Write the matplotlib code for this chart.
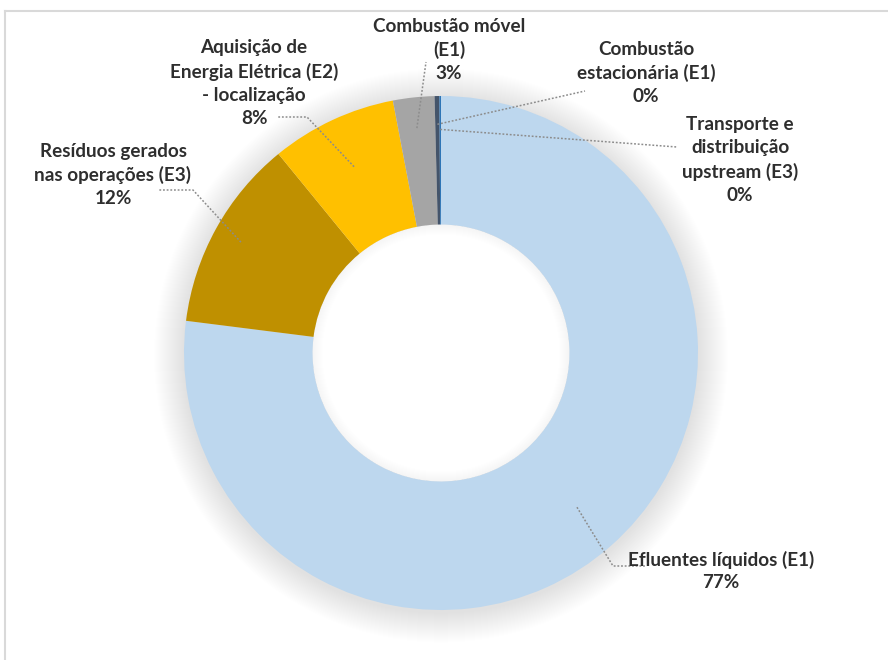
import matplotlib
matplotlib.use('Agg')
import matplotlib.pyplot as plt
from matplotlib.patches import Circle, Wedge
from matplotlib.lines import Line2D
import numpy as np

# data
categories = ['Efluentes líquidos (E1)', 'Resíduos gerados\nnas operações (E3)',
              'Aquisição de\nEnergia Elétrica (E2)\n- localização', 'Combustão móvel\n(E1)',
              'Combustão\nestacionária (E1)', 'Transporte e\ndistribuição\nupstream (E3)']
values = [77.0, 12.1, 7.9, 2.6, 0.3, 0.1]
colors = ['#BDD7EE', '#BF9000', '#FFC000', '#A5A5A5', '#44546A', '#2E75B6']

# layout in pixels of the original picture
W, H = 888, 660
CX, CY, R = 441, 353, 257
label_pos = [(721, 571), (113, 175), (254, 83), (449, 50), (646, 73), (740, 160)]
# leader line: radius on the wedge where it starts, optional elbow, end point (pixels)
leader = [
	(0.80, (613, 566), (645, 566)),
	(0.89, (193, 190), (158, 190)),
	(0.80, (307, 117), (277, 117)),
	(0.88, None, (426, 62)),
	(0.89, None, (585, 91)),
	(0.87, None, (677, 147)),
]

def px( p ):
	return ( (p[0] - CX) / R, (CY - p[1]) / R )

plt.rcParams['font.family'] = ['Lato', 'DejaVu Sans']

fig = plt.figure( figsize=(W/100, H/100), dpi=100 )
ax = fig.add_axes( [0, 0, 1, 1] )

# soft shadow round the ring
n = 30
for i in range(n):
	ax.add_patch( Circle( (0, -0.01), 1 + (i + 1) / R, color='black', alpha=0.005, lw=0, zorder=0 ) )
ax.add_patch( Circle( (0, 0), 0.5, color='white', lw=0, zorder=0.5 ) )
for i in range(10):
	ax.add_patch( Wedge( (0, 0), 0.5, 0, 360, width=(i + 1) / R, color='black', alpha=0.004, lw=0, zorder=0.6 ) )

wedges, _ = ax.pie( values, colors=colors, startangle=90, counterclock=False, radius=1,
	wedgeprops=dict( width=0.5, edgecolor='none' ) )

total = sum(values)
start = 0.0
for i, v in enumerate(values):
	mid = start + v / total * 360 / 2
	start += v / total * 360
	r, elbow, end = leader[i]
	a = np.deg2rad( 90 - mid )
	pts = [ (r * np.cos(a), r * np.sin(a)) ]
	if elbow:
		pts.append( px(elbow) )
	pts.append( px(end) )
	xs, ys = zip(*pts)
	ax.plot( xs, ys, color='#8C8C8C', lw=1.1, ls=(0, (1.2, 1.2)), zorder=3 )
	text = "{}\n{:.0f}%".format( categories[i], round( v / total * 100 ) )
	x, y = px( label_pos[i] )
	ax.text( x, y, text, ha='center', va='center', fontsize=13.6, fontweight='bold',
		color='#2E2E2E', linespacing=1.42, zorder=4 )

ax.set_xlim( -CX / R, (W - CX) / R )
ax.set_ylim( -(H - CY) / R, CY / R )
ax.set_aspect('auto')
ax.axis('off')

# chart frame
fig.add_artist( Line2D( [5/W, 1], [1 - 11/H, 1 - 11/H], color='#D9D9D9', lw=1.5 ) )
fig.add_artist( Line2D( [5/W, 5/W], [0, 1 - 11/H], color='#D9D9D9', lw=1.5 ) )

fig.savefig( 'out.png', dpi=100 )
